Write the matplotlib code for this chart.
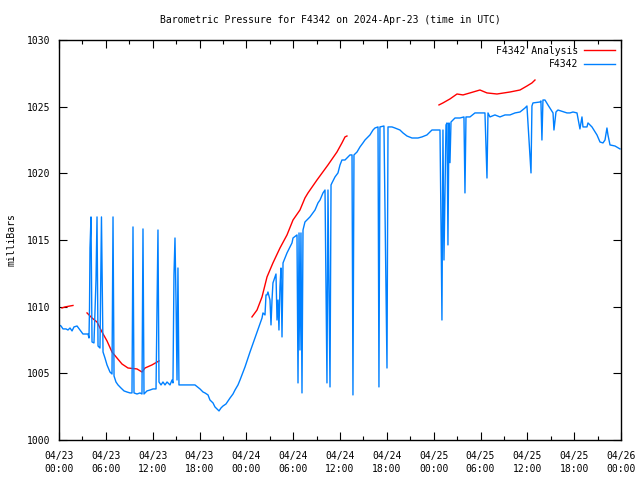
import numpy as np
import matplotlib
matplotlib.use("Agg")
import matplotlib.pyplot as plt
from matplotlib.ticker import MultipleLocator

# hours since 2024-04-23 00:00 UTC, pressure in millibars
obs_hours = [0.00,0.26,0.51,0.90,1.15,1.41,1.67,1.92,2.31,2.69,3.07,3.72,3.84,3.91,3.97,4.10,4.23,4.48,4.74,4.87,5.00,5.25,5.44,5.64,5.89,6.15,6.53,6.79,6.92,7.05,7.30,7.56,7.94,8.33,8.71,9.10,9.35,9.48,9.61,9.99,10.38,10.63,10.76,10.89,11.27,11.66,12.04,12.43,12.68,12.81,13.07,13.32,13.58,13.84,14.22,14.48,14.60,14.73,14.86,14.99,15.12,15.24,15.37,15.76,17.42,18.06,18.45,18.70,19.09,19.34,19.73,19.98,20.37,20.50,20.75,21.01,21.39,21.65,21.91,22.29,22.55,22.93,23.19,23.83,24.47,25.11,25.49,26.01,
             26.13,26.39,26.52,26.65,26.77,27.03,27.16,27.29,27.41,27.67,27.80,27.93,28.06,28.18,28.31,28.44,28.57,28.70,28.95,29.21,29.59,29.85,29.98,30.49,30.62,30.75,30.87,31.00,31.13,31.26,31.51,32.15,32.80,33.18,33.44,33.82,34.08,34.33,34.46,34.72,34.85,34.97,35.36,35.74,36.00,36.25,36.64,37.28,37.54,37.66,37.79,38.18,38.56,38.94,39.20,39.58,39.84,40.23,40.48,40.87,40.99,41.12,41.63,42.02,42.15,42.66,43.04,43.68,44.07,44.58,45.22,45.99,46.50,47.14,47.78,48.42,48.81,48.94,49.06,49.19,49.32,49.58,49.71,49.83,49.96,50.09,50.22,50.73,51.37,51.88,52.01,52.14,52.65,53.29,53.93,54.57,54.83,54.96,55.21,55.85,56.49,57.14,57.78,58.42,59.06,59.70,59.95,60.34,60.47,60.59,60.72,61.62,61.74,61.87,62.00,62.26,62.64,63.29,63.41,63.67,63.92,65.08,65.46,65.85,66.36,66.74,67.00,67.13,67.64,67.77,68.28,68.92,69.31,69.69,69.95,70.20,70.33,70.59,71.23,71.87]
obs_pressure = [1008.63,1008.55,1008.33,1008.33,1008.25,1008.40,1008.18,1008.48,1008.55,1008.25,1007.95,1007.95,1007.65,1009.90,1014.40,1016.73,1007.35,1007.28,1012.00,1016.73,1007.05,1006.90,1016.73,1006.60,1006.15,1005.63,1005.10,1004.95,1016.73,1004.80,1004.35,1004.13,1003.90,1003.68,1003.60,1003.53,1003.53,1015.98,1003.53,1003.45,1003.53,1003.45,1015.83,1003.45,1003.68,1003.75,1003.83,1003.83,1015.75,1004.35,1004.13,1004.35,1004.13,1004.35,1004.13,1004.50,1004.28,1012.38,1015.15,1010.50,1004.50,1012.90,1004.13,1004.13,1004.13,1003.83,1003.60,1003.53,1003.38,1003.00,1002.78,1002.48,1002.25,1002.18,1002.40,1002.55,1002.70,1002.93,1003.15,1003.45,1003.75,1004.13,1004.50,1005.48,1006.60,1007.65,1008.25,1009.15,
                1009.53,1009.38,1010.88,1010.88,1011.10,1010.50,1008.63,1010.50,1011.78,1012.23,1012.45,1009.00,1010.50,1008.25,1011.50,1012.90,1007.73,1013.28,1013.65,1014.03,1014.48,1014.78,1015.15,1015.38,1004.28,1015.53,1006.75,1015.53,1003.53,1015.75,1016.35,1016.73,1017.25,1017.78,1018.00,1018.53,1018.75,1004.28,1018.75,1003.98,1019.13,1019.28,1019.73,1020.03,1020.63,1021.00,1021.00,1021.38,1021.38,1003.38,1021.38,1021.60,1021.98,1022.28,1022.50,1022.73,1022.88,1023.25,1023.40,1023.48,1003.98,1023.48,1023.55,1005.40,1023.48,1023.48,1023.40,1023.25,1023.03,1022.80,1022.65,1022.65,1022.73,1022.88,1023.25,1023.25,1023.25,1016.28,1009.00,1023.25,1013.50,1023.63,1023.78,1014.63,1023.78,1020.80,1023.85,1024.15,1024.15,1024.23,1018.53,1024.23,1024.23,1024.53,1024.53,1024.53,1019.65,1024.53,1024.23,1024.38,1024.23,1024.38,1024.38,1024.53,1024.60,1024.90,1025.05,1021.38,1020.03,1025.05,1025.28,1025.35,1025.43,1022.50,1025.50,1025.50,1025.13,1024.53,1023.25,1024.60,1024.75,1024.53,1024.53,1024.60,1024.53,1023.33,1024.23,1023.48,1023.48,1023.78,1023.48,1022.88,1022.35,1022.28,1022.50,1023.40,1022.88,1022.13,1022.05,1021.83]

# analysis series, four separate segments
ana1_hours = [0.38, 0.77, 1.41, 1.79]
ana1_pressure = [1009.90, 1009.98, 1010.05, 1010.09]
ana2_hours = [3.59, 4.23, 4.87, 5.51, 6.15, 6.79, 7.43, 8.07, 8.84, 9.99, 10.63, 11.02, 11.91, 12.81]
ana2_pressure = [1009.53, 1009.15, 1008.85, 1008.10, 1007.43, 1006.60, 1006.15, 1005.70, 1005.40, 1005.33, 1005.10, 1005.40, 1005.63, 1005.93]
ana3_hours = [24.72, 25.37, 26.01, 26.65, 27.41, 28.31, 29.21, 29.98, 30.87, 31.51, 31.90, 33.05, 34.46, 35.61, 36.25, 36.64, 36.89]
ana3_pressure = [1009.23, 1009.75, 1010.73, 1012.23, 1013.28, 1014.40, 1015.38, 1016.50, 1017.25, 1018.15, 1018.53, 1019.50, 1020.63, 1021.60, 1022.28, 1022.73, 1022.80]
ana4_hours = [48.68, 49.19, 50.09, 50.99, 51.76, 52.65, 53.93, 54.83, 56.11, 57.78, 59.06, 59.95, 60.59, 60.98]
ana4_pressure = [1025.13, 1025.28, 1025.58, 1025.95, 1025.88, 1026.03, 1026.25, 1026.03, 1025.95, 1026.10, 1026.25, 1026.55, 1026.78, 1027.00]

x_tick_hours = [0, 6, 12, 18, 24, 30, 36, 42, 48, 54, 60, 66, 72]
x_tick_labels = ["04/23\n00:00", "04/23\n06:00", "04/23\n12:00", "04/23\n18:00",
                 "04/24\n00:00", "04/24\n06:00", "04/24\n12:00", "04/24\n18:00",
                 "04/25\n00:00", "04/25\n06:00", "04/25\n12:00", "04/25\n18:00",
                 "04/26\n00:00"]
y_ticks = [1000, 1005, 1010, 1015, 1020, 1025, 1030]

plt.rcParams['font.family'] = ['DejaVu Sans Mono']
plt.rcParams['font.size'] = 7

fig = plt.figure(figsize=(6.4, 4.8), dpi=100)
ax = fig.add_axes([59/640, 1-440/480, (621-59)/640, 400/480])

nan = [np.nan]
ana_h = ana1_hours + nan + ana2_hours + nan + ana3_hours + nan + ana4_hours
ana_p = ana1_pressure + nan + ana2_pressure + nan + ana3_pressure + nan + ana4_pressure

ax.plot(ana_h, ana_p, color='#ff0000', lw=1.0, label='F4342 Analysis')
ax.plot(obs_hours, obs_pressure, color='#0080ff', lw=1.0, label='F4342')

ax.set_xlim(0, 72)
ax.set_ylim(1000, 1030)
ax.set_xticks(x_tick_hours)
ax.set_xticklabels(x_tick_labels, linespacing=1.35)
ax.xaxis.set_minor_locator(MultipleLocator(3))
ax.set_yticks(y_ticks)
ax.set_yticklabels([str(v) for v in y_ticks])
ax.tick_params(which='both', direction='in', top=True, right=True, labelsize=7, width=0.8)
ax.tick_params(which='major', length=6)
ax.tick_params(axis='x', which='major', pad=8)
ax.tick_params(axis='y', which='major', pad=6)
ax.tick_params(which='minor', length=3)
for s in ax.spines.values():
    s.set_linewidth(1.0)

ax.set_ylabel('milliBars', fontsize=7, labelpad=8)
fig.text(0.5156, 1-20/480, 'Barometric Pressure for F4342 on 2024-Apr-23 (time in UTC)',
         ha='center', va='center', fontsize=7)

ax.legend(loc='upper right', frameon=False, markerfirst=False, fontsize=7,
          handlelength=3.2, labelspacing=0.35, borderaxespad=0.2, handletextpad=0.6)

fig.savefig('out.png', dpi=100)
